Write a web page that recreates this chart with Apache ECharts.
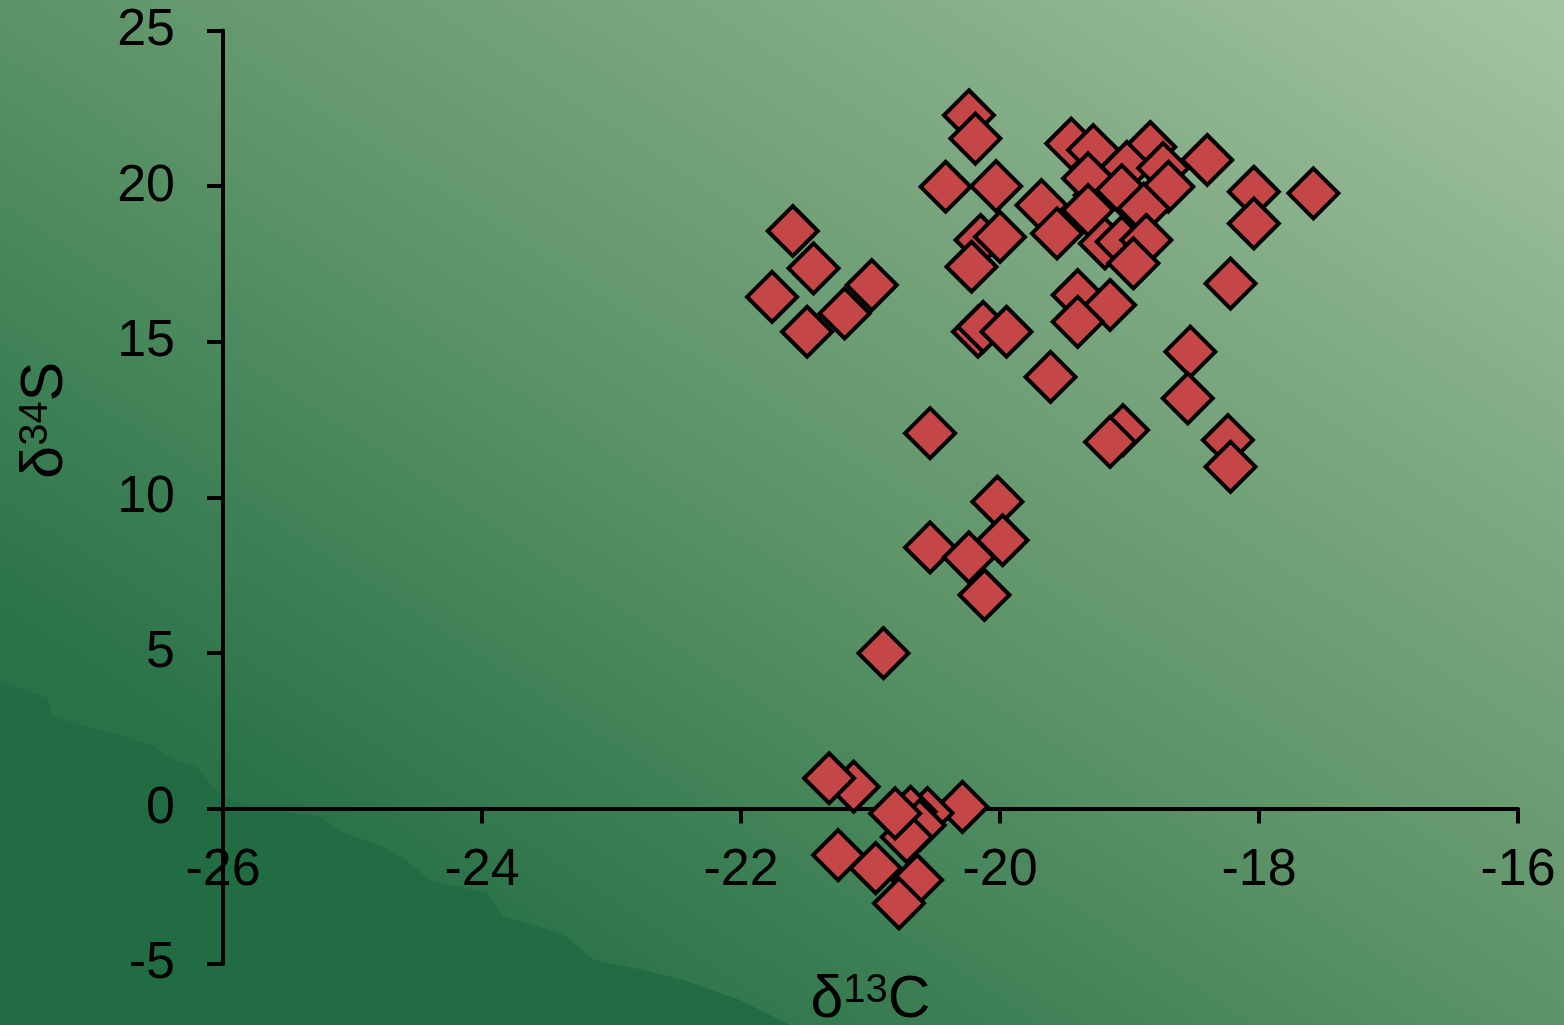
<!DOCTYPE html>
<html>
<head>
<meta charset="utf-8">
<script src="https://cdn.jsdelivr.net/npm/echarts@6/dist/echarts.min.js"></script>
<style>
  html, body { margin: 0; padding: 0; }
  #chart { width: 1564px; height: 1025px; }
</style>
</head>
<body>
<div id="chart"></div>
<script>
// δ13C values (x)
const d13C = [
  -20.24, -20.19, -20.42, -20.03, -19.45, -19.28, -18.84, -18.40, -19.23, -19.32,
  -19.02, -18.74, -18.70, -19.06, -19.68, -19.56, -19.32, -18.89, -19.19, -19.06,
  -18.87, -18.97, -18.04, -18.04, -17.58, -18.22, -20.15, -20.00, -20.22, -21.60,
  -21.44, -21.76, -20.99, -21.20, -21.49, -20.17, -20.13, -19.95, -19.40, -19.15,
  -19.40, -19.61, -20.54, -19.05, -19.15, -18.53, -18.55, -18.24, -18.22, -20.02,
  -19.98, -20.54, -20.24, -20.12, -20.90, -21.13, -21.32, -20.29, -20.56, -20.69,
  -20.62, -20.72, -20.81, -21.25, -20.64, -20.96, -20.78
];
// δ34S values (y)
const d34S = [
  22.28, 21.53, 19.98, 20.00, 21.37, 21.16, 21.26, 20.84, 19.71, 20.25,
  20.62, 20.58, 19.98, 19.87, 19.39, 18.48, 19.23, 19.28, 18.16, 18.21,
  18.27, 17.52, 19.82, 18.80, 19.77, 16.87, 18.27, 18.37, 17.41, 18.56,
  17.36, 16.44, 16.82, 15.91, 15.32, 15.32, 15.48, 15.32, 16.50, 16.18,
  15.64, 13.87, 12.06, 12.16, 11.78, 14.68, 13.18, 11.84, 10.98, 9.86,
  8.62, 8.39, 8.07, 6.86, 4.99, 0.70, 0.97, 0.05, -0.15, -0.11,
  -0.54, -0.92, -0.16, -1.50, -2.30, -1.92, -3.05
];
const xTicks = { min: -26, max: -16, step: 2 };
const yTicks = { min: -5, max: 25, step: 5 };

const font = "'Liberation Sans', Arial, sans-serif";
const chart = echarts.init(document.getElementById('chart'), null, { renderer: 'canvas' });

const nameRich = {
  d: { fontSize: 59, fontFamily: font, color: '#000' },
  s: { fontSize: 40, fontFamily: font, color: '#000', verticalAlign: 'top' }
};

const option = {
  backgroundColor: {
    type: 'linear', global: true,
    x: 0, y: 1025, x2: 940, y2: -409,
    colorStops: [
      { offset: 0, color: '#226b43' },
      { offset: 0.2, color: '#2b7249' },
      { offset: 0.35, color: '#428358' },
      { offset: 0.5, color: '#5d9368' },
      { offset: 0.75, color: '#7faa83' },
      { offset: 1, color: '#a5c5a2' }
    ]
  },
  animation: false,
  graphic: [{
    type: 'polygon',
    z: -10,
    silent: true,
    shape: {
      points: [[0, 680], [18, 687], [47, 698], [54, 717], [80, 725], [125, 737], [156, 747],
        [170, 758], [196, 767], [210, 783], [223, 797], [250, 807], [321, 817], [344, 833],
        [384, 847], [406, 860], [429, 880], [487, 893], [504, 917], [562, 933], [594, 960],
        [643, 970], [683, 980], [740, 1000], [790, 1025], [0, 1025]]
    },
    style: { fill: '#226c44' }
  }],
  grid: { left: 223, right: 46, top: 30.6, bottom: 61, containLabel: false, outerBoundsMode: 'none' },
  xAxis: {
    type: 'value',
    min: xTicks.min, max: xTicks.max, interval: xTicks.step,
    splitLine: { show: false },
    axisLine: { onZero: true, lineStyle: { color: '#000', width: 4 } },
    axisTick: { show: true, length: 15, lineStyle: { color: '#000', width: 4 } },
    // labels sit under the zero line, not at the grid bottom
    axisLabel: { margin: -119, fontSize: 52, color: '#000', fontFamily: font },
    name: '{d|δ}{s|13}{d|C}',
    nameLocation: 'middle',
    nameGap: 7,
    nameTextStyle: { rich: nameRich }
  },
  yAxis: {
    type: 'value',
    min: yTicks.min, max: yTicks.max, interval: yTicks.step,
    splitLine: { show: false },
    axisLine: { show: true, onZero: false, lineStyle: { color: '#000', width: 4 } },
    axisTick: { show: true, length: 16, lineStyle: { color: '#000', width: 4 } },
    axisLabel: { margin: 48, fontSize: 52, color: '#000', fontFamily: font },
    name: '{d|δ}{s|34}{d|S}',
    nameLocation: 'middle',
    nameRotate: 90,
    nameGap: 148,
    nameTextStyle: { padding: [0, 0, 0, 154], rich: nameRich }
  },
  series: [{
    type: 'scatter',
    symbol: 'diamond',
    symbolSize: 50,
    itemStyle: { color: '#c44646', borderColor: '#000', borderWidth: 4, opacity: 1 },
    data: d13C.map((x, i) => [x, d34S[i]])
  }]
};
chart.setOption(option);
</script>
</body>
</html>
